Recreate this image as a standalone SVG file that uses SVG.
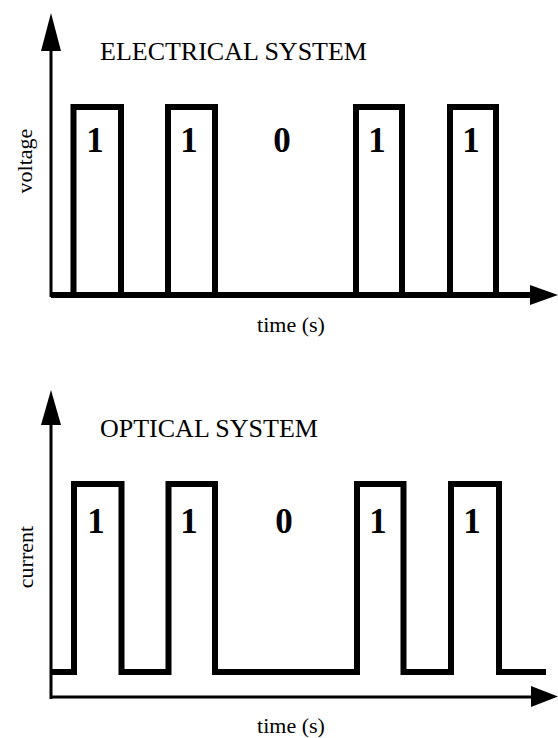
<svg xmlns="http://www.w3.org/2000/svg" width="558" height="738" viewBox="0 0 558 738">
  <style>
    .axis { stroke: #000; stroke-width: 3; fill: none; }
    .sig { stroke: #000; stroke-width: 6; fill: none; stroke-linejoin: miter; stroke-linecap: butt; }
    .head { fill: #000; }
    .title { font-family: "Liberation Serif", "Times New Roman", serif; font-size: 26px; fill: #000; }
    .lbl { font-family: "Liberation Serif", "Times New Roman", serif; font-size: 22px; fill: #000; }
    .bit { font-family: "Liberation Serif", "Times New Roman", serif; font-size: 35px; font-weight: bold; fill: #000; text-anchor: middle; }
  </style>
  <rect width="558" height="738" fill="#fff"/>

  <!-- Electrical system: voltage pulses -->
  <g id="electrical">
    <g id="electrical-axes">
      <line class="axis" x1="51" y1="297" x2="51" y2="48"/>
      <polygon class="head" points="41,51 51,13 61,51"/>
      <line class="sig" x1="51" y1="295" x2="532" y2="295"/>
      <polygon class="head" points="530,285 558,295 530,305"/>
    </g>
    <polyline id="electrical-signal" class="sig" points="51,295 73.5,295 73.5,107 121,107 121,295 168,295 168,107 215,107 215,295 356,295 356,107 402,107 402,295 450,295 450,107 496,107 496,295 530,295"/>
    <text class="title" x="100" y="60">ELECTRICAL SYSTEM</text>
    <text class="lbl" transform="translate(32,161) rotate(-90)" text-anchor="middle">voltage</text>
    <text class="lbl" x="291" y="332" text-anchor="middle">time (s)</text>
    <g id="electrical-bits">
      <text class="bit" x="95" y="152">1</text>
      <text class="bit" x="189" y="152">1</text>
      <text class="bit" x="282" y="152">0</text>
      <text class="bit" x="377" y="152">1</text>
      <text class="bit" x="471" y="152">1</text>
    </g>
  </g>

  <!-- Optical system: current pulses above a raised floor -->
  <g id="optical">
    <g id="optical-axes">
      <line class="axis" x1="51" y1="699" x2="51" y2="422"/>
      <polygon class="head" points="41,425 51,390 61,425"/>
      <line class="axis" x1="50" y1="697" x2="534" y2="697"/>
      <polygon class="head" points="531,686 558,696.5 531,707"/>
    </g>
    <polyline id="optical-signal" class="sig" points="51,672 74,672 74,484 121.5,484 121.5,672 168.5,672 168.5,484 215,484 215,672 357,672 357,484 403.5,484 403.5,672 451,672 451,484 499,484 499,672 546,672"/>
    <text class="title" x="100" y="437">OPTICAL SYSTEM</text>
    <text class="lbl" transform="translate(33,557) rotate(-90)" text-anchor="middle">current</text>
    <text class="lbl" x="291" y="733" text-anchor="middle">time (s)</text>
    <g id="optical-bits">
      <text class="bit" x="96" y="533">1</text>
      <text class="bit" x="189" y="533">1</text>
      <text class="bit" x="284" y="533">0</text>
      <text class="bit" x="378" y="533">1</text>
      <text class="bit" x="472" y="533">1</text>
    </g>
  </g>
</svg>
